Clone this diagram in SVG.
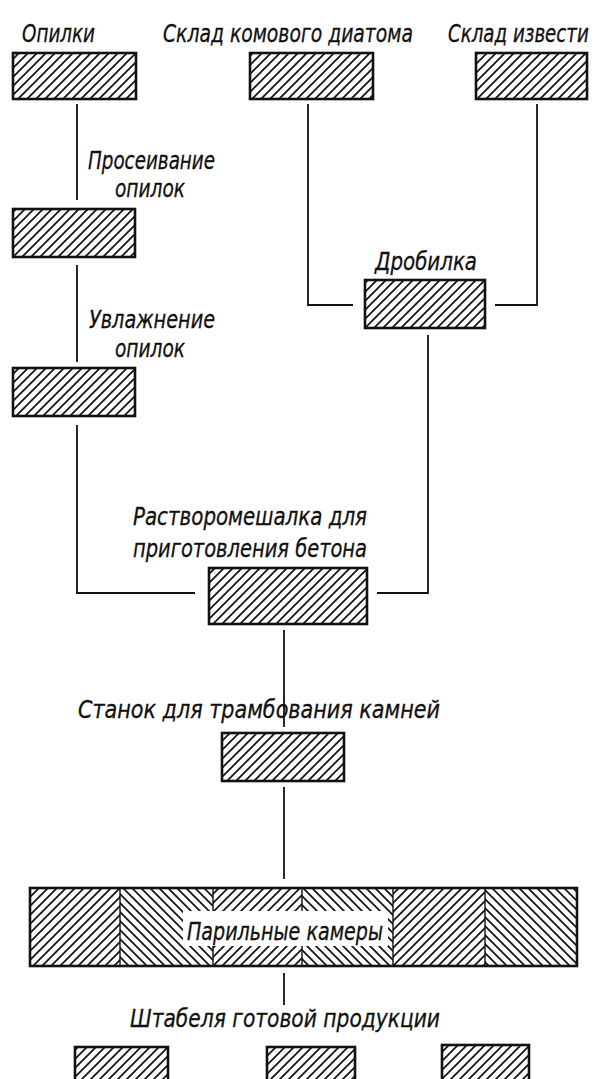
<svg xmlns="http://www.w3.org/2000/svg" width="598" height="1079" viewBox="0 0 598 1079">
  <defs>
    <!-- diagonal hatching "/" -->
    <pattern id="hatchF" patternUnits="userSpaceOnUse" width="9" height="9">
      <path d="M-2,2 L2,-2 M0,9 L9,0 M7,11 L11,7" stroke="#111" stroke-width="1.7"/>
    </pattern>
    <!-- diagonal hatching "\" -->
    <pattern id="hatchB" patternUnits="userSpaceOnUse" width="9" height="9">
      <path d="M-2,7 L2,11 M0,0 L9,9 M7,-2 L11,2" stroke="#111" stroke-width="1.7"/>
    </pattern>
    <style>
      .box { fill: url(#hatchF); stroke: #111; stroke-width: 2.6; }
      .frame { fill: none; stroke: #111; stroke-width: 2.6; }
      .div { stroke: #111; stroke-width: 1.4; }
      .lbl { font-family: "DejaVu Sans Condensed", "DejaVu Sans", sans-serif; font-style: italic; font-size: 25px; fill: #111; stroke: #111; stroke-width: 0.3; }
      .wire { fill: none; stroke: #111; stroke-width: 1.8; }
    </style>
  </defs>
  <rect width="598" height="1079" fill="#fff"/>

  <g id="connectors">
    <path class="wire" d="M77,104 V200"/>
    <path class="wire" d="M77,265 V362"/>
    <path class="wire" d="M77,425 V593 H195"/>
    <path class="wire" d="M308,104 V305 H353"/>
    <path class="wire" d="M537,104 V305 H495"/>
    <path class="wire" d="M428,335 V593 H377"/>
    <path class="wire" d="M284,630 V727"/>
    <path class="wire" d="M284,787 V879"/>
    <path class="wire" d="M284,973 V1005"/>
  </g>

  <g id="opilki">
    <text class="lbl" x="22" y="42" textLength="73" lengthAdjust="spacingAndGlyphs">Опилки</text>
    <rect class="box" x="13" y="53" width="123" height="46"/>
  </g>

  <g id="sklad-diatoma">
    <!-- condensed horizontally to leave room for the next label -->
    <text class="lbl" transform="translate(163,42) scale(0.835,1)">Склад комового диатома</text>
    <rect class="box" x="250" y="53" width="123" height="46"/>
  </g>

  <g id="sklad-izvesti">
    <!-- condensed horizontally so the label stays inside the right edge -->
    <text class="lbl" transform="translate(448,42) scale(0.81,1)">Склад извести</text>
    <rect class="box" x="476" y="53" width="111" height="46"/>
  </g>

  <g id="proseivanie">
    <text class="lbl" x="88" y="169" textLength="127" lengthAdjust="spacingAndGlyphs">Просеивание</text>
    <text class="lbl" x="115" y="197" textLength="70" lengthAdjust="spacingAndGlyphs">опилок</text>
    <rect class="box" x="13" y="209" width="122" height="48"/>
  </g>

  <g id="uvlazhnenie">
    <text class="lbl" x="89" y="328" textLength="126" lengthAdjust="spacingAndGlyphs">Увлажнение</text>
    <text class="lbl" x="115" y="357" textLength="70" lengthAdjust="spacingAndGlyphs">опилок</text>
    <rect class="box" x="13" y="368" width="122" height="48"/>
  </g>

  <g id="drobilka">
    <text class="lbl" x="375" y="270" textLength="102" lengthAdjust="spacingAndGlyphs">Дробилка</text>
    <rect class="box" x="365" y="280" width="120" height="48"/>
  </g>

  <g id="rastvoromeshalka">
    <text class="lbl" x="133" y="525" textLength="234" lengthAdjust="spacingAndGlyphs">Растворомешалка для</text>
    <text class="lbl" x="133" y="557" textLength="234" lengthAdjust="spacingAndGlyphs">приготовления бетона</text>
    <rect class="box" x="209" y="568" width="158" height="56"/>
  </g>

  <g id="stanok">
    <text class="lbl" x="78" y="718" textLength="362" lengthAdjust="spacingAndGlyphs">Станок для трамбования камней</text>
    <rect class="box" x="222" y="733" width="122" height="48"/>
  </g>

  <g id="parilnye-kamery">
    <rect x="30" y="888" width="90" height="78" fill="url(#hatchF)"/>
    <rect x="120" y="888" width="93" height="78" fill="url(#hatchB)"/>
    <rect x="213" y="888" width="89" height="78" fill="url(#hatchF)"/>
    <rect x="302" y="888" width="91" height="78" fill="url(#hatchB)"/>
    <rect x="393" y="888" width="92" height="78" fill="url(#hatchF)"/>
    <rect x="485" y="888" width="92" height="78" fill="url(#hatchB)"/>
    <path class="div" d="M120,888 V966 M213,888 V966 M302,888 V966 M393,888 V966 M485,888 V966"/>
    <rect x="183" y="911" width="205" height="35" fill="#fff"/>
    <rect class="frame" x="30" y="888" width="547" height="78"/>
    <text class="lbl" x="187" y="940" textLength="196" lengthAdjust="spacingAndGlyphs">Парильные камеры</text>
  </g>

  <g id="shtabelya">
    <text class="lbl" x="130" y="1027" textLength="310" lengthAdjust="spacingAndGlyphs">Штабеля готовой продукции</text>
    <rect class="box" x="75" y="1047" width="93" height="50"/>
    <rect class="box" x="267" y="1047" width="88" height="50"/>
    <rect class="box" x="442" y="1045" width="87" height="52"/>
  </g>
</svg>
